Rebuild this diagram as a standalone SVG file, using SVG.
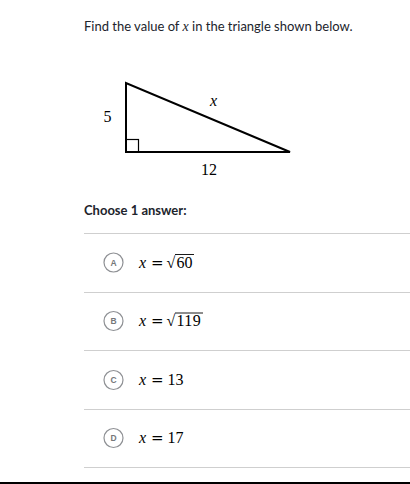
<svg xmlns="http://www.w3.org/2000/svg" width="410" height="484" viewBox="0 0 410 484">
<style>
.t{font-family:Lato,"Liberation Sans",sans-serif;font-size:13px;fill:#21242c}
.b{font-weight:bold}
.m{font-family:"Liberation Serif","DejaVu Serif",serif;font-size:16px;fill:#000}
.i{font-style:italic}
.eq{font-family:"DejaVu Serif","Liberation Serif",serif;font-size:15px}
.sep{stroke:#cfcfcf;stroke-width:1.2}
.c{fill:#fff;stroke:#8e9094;stroke-width:1.2}
.cl{font-family:"Liberation Sans",sans-serif;font-size:8.5px;font-weight:bold;fill:#75777a;text-anchor:middle}
.tri{fill:none;stroke:#000;stroke-width:2;stroke-linejoin:miter}
.bar{stroke:#000;stroke-width:0.9}
</style>
<rect width="410" height="484" fill="#fff"/>
<text class="t" x="84" y="31">Find the value of <tspan font-family="Liberation Serif,serif" font-style="italic" font-size="14">x</tspan> in the triangle shown below.</text>
<g id="triangle">
<polygon class="tri" points="126,83 126,152 290,152"/>
<rect x="126" y="139.5" width="12.5" height="12.5" fill="none" stroke="#000" stroke-width="1.2"/>
<text class="m" x="103.5" y="122" font-size="15">5</text>
<text class="m i" x="210" y="106" font-size="15">x</text>
<text class="m" x="201" y="175" font-size="15">12</text>
</g>
<text class="t b" x="84" y="215">Choose 1 answer:</text>
<g id="separators">
<line class="sep" x1="84" y1="233.5" x2="410" y2="233.5"/>
<line class="sep" x1="84" y1="292.5" x2="410" y2="292.5"/>
<line class="sep" x1="84" y1="350.5" x2="410" y2="350.5"/>
<line class="sep" x1="84" y1="409.5" x2="410" y2="409.5"/>
<line class="sep" x1="84" y1="467.5" x2="410" y2="467.5"/>
<line x1="0" y1="483" x2="410" y2="483" stroke="#000" stroke-width="2"/>
</g>
<g id="optA">
<circle class="c" cx="113.5" cy="262.5" r="9.5"/>
<text class="cl" x="113.5" y="265.5">A</text>
<text class="m" x="139" y="267.5"><tspan class="i">x</tspan><tspan class="eq" x="151">=</tspan><tspan x="166.5">√</tspan><tspan x="176.5">60</tspan></text>
<line class="bar" x1="175" y1="254.5" x2="194" y2="254.5"/>
</g>
<g id="optB">
<circle class="c" cx="113.5" cy="321" r="9.5"/>
<text class="cl" x="113.5" y="324">B</text>
<text class="m" x="139" y="326"><tspan class="i">x</tspan><tspan class="eq" x="151">=</tspan><tspan x="166.5">√</tspan><tspan x="176.5" letter-spacing="0.4">119</tspan></text>
<line class="bar" x1="175" y1="313" x2="203" y2="313"/>
</g>
<g id="optC">
<circle class="c" cx="113.5" cy="380" r="9.5"/>
<text class="cl" x="113.5" y="383">C</text>
<text class="m" x="139" y="385"><tspan class="i">x</tspan><tspan class="eq" x="151">=</tspan><tspan x="167.5">13</tspan></text>
</g>
<g id="optD">
<circle class="c" cx="113.5" cy="438" r="9.5"/>
<text class="cl" x="113.5" y="441">D</text>
<text class="m" x="139" y="443"><tspan class="i">x</tspan><tspan class="eq" x="151">=</tspan><tspan x="167.5">17</tspan></text>
</g>
</svg>
